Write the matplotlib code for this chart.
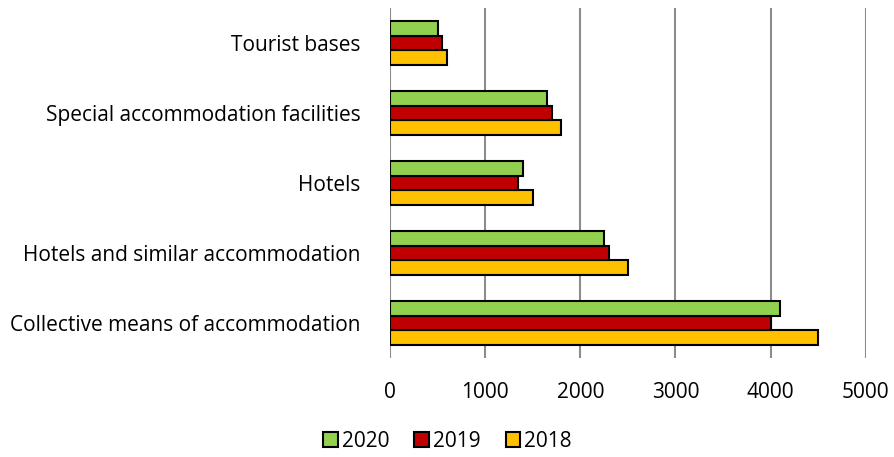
import matplotlib.pyplot as plt
import numpy as np

categories = ['Collective means of accommodation', 'Hotels and similar accommodation',
              'Hotels', 'Special accommodation facilities', 'Tourist bases']
vals_2018 = [4500, 2500, 1500, 1800, 600]
vals_2019 = [4000, 2300, 1350, 1700, 550]
vals_2020 = [4100, 2250, 1400, 1650, 500]

COLORS = {'2020': '#92D050', '2019': '#C00000', '2018': '#FFC000'}

plt.rcParams['font.family'] = ['Open Sans', 'DejaVu Sans']

fig = plt.figure(figsize=(8.95, 4.57), dpi=100)
ax = fig.add_axes([0.4358, 0.2166, 0.5315, 0.766])

y = np.arange(len(categories))
h = 0.21
series = [('2018', vals_2018, -h), ('2019', vals_2019, 0), ('2020', vals_2020, h)]
for name, vals, off in series:
    ax.barh(y + off, vals, height=h, color=COLORS[name], edgecolor='black',
            linewidth=1.5, label=name, zorder=3)

ax.set_xlim(0, 5000)
ax.set_ylim(-0.5, len(categories) - 0.5)
ax.set_xticks(range(0, 5001, 1000))
ax.set_yticks(y)
ax.set_yticklabels(categories)
ax.tick_params(length=0, labelsize=15)
ax.tick_params(axis='y', pad=21)
ax.tick_params(axis='x', pad=17)
ax.grid(True, axis='x', color='#8c8c8c', linewidth=1.5, zorder=0)
for s in ax.spines.values():
    s.set_visible(False)

handles, labels = ax.get_legend_handles_labels()
fig.legend(handles[::-1], labels[::-1], loc='center', bbox_to_anchor=(0.5, 0.035),
           ncol=3, frameon=False, fontsize=15, handlelength=0.7, handleheight=0.7,
           handletextpad=0.2, columnspacing=1.2)

plt.savefig('out.png', dpi=100)
plt.close()
